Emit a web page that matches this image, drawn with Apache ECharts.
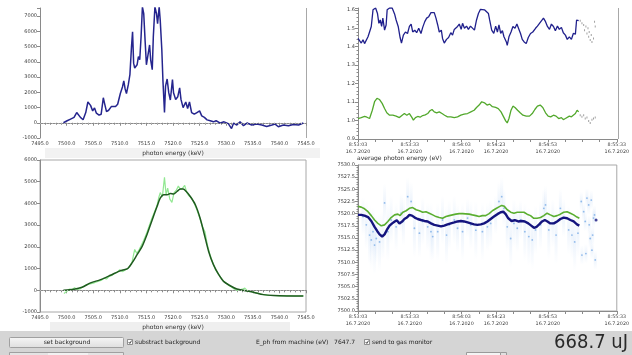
<!DOCTYPE html>
<html>
<head>
<meta charset="utf-8">
<script src="https://cdn.jsdelivr.net/npm/echarts@6/dist/echarts.min.js"></script>
<style>
html,body{margin:0;padding:0;background:#fff;}
#c{width:632px;height:355px;}
</style>
</head>
<body>
<div id="c"></div>
<script>
// ---- single-shot spectrum [photon energy keV, counts] ----
var spectrum = [[7499.4,0],[7500.1,130],[7500.75,240],[7501.4,350],[7501.9,670],[7502.1,750],[7502.6,350],[7503.1,200],[7503.6,670],[7504.0,1360],[7504.5,1140],[7504.9,780],[7505.25,970],[7505.6,630],[7506.1,500],[7506.5,560],[7506.9,1640],[7507.1,1320],[7507.5,730],[7507.9,820],[7508.4,1060],[7508.75,930],[7509.2,1060],[7509.6,1210],[7509.9,1140],[7510.1,1920],[7510.5,2350],[7510.75,2740],[7511.0,2220],[7511.25,1920],[7511.6,2500],[7511.9,3150],[7512.2,4990],[7512.4,5960],[7512.6,3910],[7512.8,3590],[7513.25,3800],[7513.5,4340],[7513.75,4130],[7514.0,5640],[7514.25,7600],[7514.5,7150],[7514.75,5420],[7515.0,3800],[7515.25,3910],[7515.6,5100],[7515.8,4130],[7516.1,3480],[7516.3,5640],[7516.6,7600],[7516.9,7150],[7517.1,6500],[7517.4,7600],[7517.6,6720],[7517.9,4770],[7518.1,2830],[7518.4,670],[7518.6,2400],[7518.9,2870],[7519.2,1970],[7519.5,1490],[7519.9,2830],[7520.1,1970],[7520.5,1530],[7520.9,1710],[7521.25,2290],[7521.5,1530],[7521.9,990],[7522.4,1360],[7522.75,930],[7523.1,1360],[7523.5,670],[7524.0,560],[7524.5,670],[7525.0,780],[7525.4,450],[7525.9,350],[7526.4,190],[7527.0,130],[7527.6,60],[7528.1,130],[7528.9,-20],[7529.6,60],[7530.4,-60],[7531.0,-380],[7531.4,-20],[7532.0,-150],[7532.6,60],[7533.25,-190],[7533.9,-20],[7534.8,-150],[7535.75,-90],[7536.7,-150],[7537.6,-240],[7538.6,-150],[7539.2,-90],[7539.8,-260],[7540.75,-150],[7541.7,-200],[7542.6,-110],[7543.6,-150],[7544.5,-20]];

// ---- averaged spectrum: raw average and smoothed fit ----
var avgRaw = [[7499.5,-150],[7500.0,-60],[7500.5,50],[7501.0,30],[7501.5,120],[7502.0,40],[7502.5,60],[7503.0,150],[7503.5,230],[7504.2,280],[7505.0,330],[7505.6,380],[7506.0,420],[7506.6,470],[7507.0,560],[7507.5,520],[7508.0,640],[7508.6,700],[7509.0,780],[7509.5,820],[7510.0,950],[7510.5,860],[7511.0,930],[7511.5,1000],[7512.0,1150],[7512.3,1300],[7512.8,1880],[7513.2,1700],[7513.6,1850],[7514.0,2050],[7514.5,2300],[7515.0,2600],[7515.5,2950],[7516.0,3300],[7516.5,3600],[7517.0,3900],[7517.3,4250],[7517.6,4500],[7518.0,4300],[7518.4,5200],[7518.7,4400],[7519.0,4700],[7519.4,4200],[7519.8,4050],[7520.2,4500],[7520.6,4600],[7521.0,4800],[7521.4,4650],[7521.8,4700],[7522.2,4830],[7522.6,4500],[7523.0,4350],[7523.5,4250],[7524.0,4000],[7524.5,3700],[7525.0,3350],[7525.5,2950],[7526.0,2700],[7526.5,2050],[7527.0,1600],[7527.5,1250],[7528.0,950],[7528.5,750],[7529.0,580],[7529.5,420],[7530.0,330],[7530.5,220],[7531.0,150],[7531.5,60],[7532.0,0],[7532.5,20],[7533.0,50],[7533.5,100],[7534.0,-30],[7534.5,-50],[7535.0,-80],[7535.5,-110],[7536.0,-140],[7536.5,-170],[7537.0,-200],[7538.0,-230],[7539.0,-240],[7540.0,-260],[7541.0,-250],[7542.0,-250],[7543.0,-265],[7544.5,-260]];
var avgFit = [[7499.4,0],[7501.4,50],[7502.9,140],[7504.5,340],[7506.4,490],[7508.25,690],[7509.8,870],[7511.0,960],[7511.5,1000],[7512.3,1260],[7513.25,1640],[7514.2,2020],[7515.1,2560],[7516.1,3250],[7517.0,3860],[7517.6,4240],[7518.25,4400],[7518.9,4400],[7519.5,4460],[7520.1,4430],[7520.75,4550],[7521.4,4660],[7521.9,4660],[7522.5,4550],[7523.25,4320],[7524.2,3940],[7525.1,3320],[7525.9,2560],[7526.7,1790],[7527.6,1180],[7528.6,720],[7529.5,410],[7530.75,210],[7532.0,60],[7533.6,-20],[7535.1,-90],[7537.0,-200],[7538.9,-245],[7541.4,-260],[7544.5,-260]];

// ---- ratio traces vs time [seconds after 8:53:03, value] ----
var ratioBlue = [[0,1.445],[1,1.436],[1.9,1.42],[2.9,1.438],[3.8,1.417],[4.8,1.41],[5.8,1.454],[6.7,1.48],[7.7,1.51],[8.7,1.6],[10.2,1.61],[11.3,1.58],[12.1,1.527],[12.9,1.545],[13.7,1.51],[14.4,1.555],[15.4,1.49],[16.3,1.518],[16.9,1.6],[18.3,1.61],[19.8,1.61],[21.2,1.578],[22.1,1.545],[23.3,1.51],[24.4,1.45],[25.2,1.42],[26.3,1.463],[27.5,1.48],[28.7,1.472],[29.8,1.51],[30.8,1.523],[31.7,1.48],[32.9,1.49],[34,1.476],[35.2,1.5],[36.5,1.472],[37.5,1.505],[38.7,1.536],[39.8,1.555],[41,1.563],[42.3,1.585],[43.3,1.578],[44.2,1.585],[45.2,1.555],[46.2,1.518],[47.1,1.48],[48.3,1.49],[49,1.445],[50,1.42],[51.3,1.44],[52.5,1.45],[53.8,1.476],[54.8,1.463],[55.8,1.494],[56.7,1.487],[57.7,1.51],[58.7,1.523],[59.8,1.494],[60.6,1.527],[61.7,1.5],[62.9,1.512],[64,1.494],[65.2,1.512],[66.3,1.505],[67.5,1.49],[68.7,1.545],[69.8,1.58],[71,1.603],[72.1,1.61],[73.3,1.6],[74.4,1.61],[75.6,1.58],[76.3,1.545],[77.5,1.49],[78.7,1.472],[79.8,1.512],[80.8,1.48],[81.7,1.518],[82.7,1.472],[83.7,1.487],[84.6,1.454],[86,1.426],[86.5,1.408],[87.5,1.454],[88.7,1.48],[89.8,1.51],[91,1.5],[92.1,1.523],[93.3,1.494],[94.2,1.472],[95.2,1.44],[96.3,1.426],[97.5,1.417],[98.7,1.45],[100,1.472],[101.3,1.48],[102.9,1.5],[104,1.512],[105.2,1.527],[106.3,1.518],[107.5,1.555],[108.7,1.536],[109.8,1.51],[111,1.494],[112.1,1.523],[113.3,1.51],[114.4,1.487],[115.6,1.512],[116.7,1.494],[117.9,1.505],[119,1.476],[120.2,1.463],[121.3,1.44],[122.5,1.454],[123.7,1.44],[124.8,1.472],[126,1.468],[126.7,1.545],[127.9,1.541]];
var ratioGreen = [[0,1.011],[1.9,1.016],[3.8,1.022],[5.2,1.018],[6.7,1.011],[8.3,1.056],[9.6,1.102],[11,1.12],[12.5,1.114],[14,1.093],[15.4,1.065],[16.7,1.042],[18.3,1.029],[20.2,1.029],[22.1,1.024],[24,1.016],[25.6,1.029],[26.9,1.038],[28.3,1.029],[29.8,1.038],[31.3,1.016],[32.1,1.002],[33.3,1.016],[34.6,1.022],[36,1.018],[37.5,1.027],[39,1.031],[40.4,1.038],[41.7,1.053],[42.9,1.06],[44.2,1.047],[45.6,1.042],[47.1,1.047],[48.7,1.038],[50.2,1.029],[51.9,1.02],[53.8,1.02],[55.8,1.016],[57.7,1.02],[59.6,1.029],[61.5,1.035],[63.5,1.038],[65.4,1.047],[67.3,1.056],[68.7,1.071],[70.2,1.084],[71.7,1.102],[73.3,1.096],[74.8,1.084],[76.3,1.089],[77.9,1.075],[79.8,1.071],[81.3,1.065],[82.9,1.047],[84.4,1.02],[85.6,0.998],[86.5,0.987],[87.5,1.011],[88.7,1.056],[89.8,1.078],[91,1.071],[92.5,1.056],[94,1.042],[95.6,1.029],[97.5,1.024],[99.4,1.024],[101,1.038],[102.5,1.06],[104,1.078],[105.6,1.084],[107.1,1.071],[108.7,1.042],[110.2,1.024],[111.7,1.02],[113.3,1.029],[114.8,1.024],[116.3,1.011],[117.9,1.016],[119,1.005],[120.2,1.011],[121.3,1.005],[122.5,1.024],[123.7,1.02],[124.8,1.029],[126,1.038],[127,1.056],[127.9,1.047]];
var ratioTail = [[128.8,1.541],[129.8,1.527],[130.8,1.518],[131.3,1.49],[132.1,1.51],[132.7,1.472],[133.3,1.5],[133.7,1.454],[134,1.48],[134.6,1.436],[135.2,1.463],[135.6,1.426],[136.5,1.445],[137.1,1.536],[137.5,1.51],
                 [128.8,1.029],[129.8,1.02],[130.8,1.029],[131.7,1.011],[132.7,1.016],[133.7,0.998],[134.6,0.987],[135.6,1.005],[136.5,1.011],[137.5,1.016]];

// ---- average photon energy vs time [seconds after 8:53:03, eV] ----
var energyGreen = [[0,7521.5],[1.9,7521.35],[3.8,7521.0],[5.8,7520.4],[7.7,7519.6],[9.6,7518.7],[11.5,7518.0],[13.5,7517.5],[15.4,7517.7],[17.3,7518.4],[19.2,7519.2],[21.2,7519.75],[23.1,7519.9],[24.4,7519.6],[26,7520.3],[27.9,7520.6],[29.8,7521.1],[31.7,7521.25],[33.7,7520.8],[35.6,7520.6],[37.5,7520.3],[39.4,7520.4],[41.3,7520.1],[43.3,7519.75],[45.2,7519.4],[47.1,7519.2],[49,7519.05],[51,7519.4],[52.9,7519.6],[54.8,7519.75],[56.7,7519.9],[58.7,7520.0],[60.6,7520.0],[62.5,7519.95],[64.4,7519.9],[66.3,7519.75],[68.3,7519.6],[70.2,7519.4],[72.1,7519.6],[74,7519.6],[76,7520.0],[77.9,7520.6],[79.8,7521.0],[81.7,7521.4],[83.3,7521.7],[84.8,7521.5],[86.5,7520.8],[88.5,7520.3],[90.4,7520.1],[92.3,7520.3],[94.2,7520.3],[96.2,7520.3],[98,7519.9],[100,7519.6],[101.9,7519.05],[103.8,7519.05],[105.8,7519.2],[107.7,7519.6],[109.6,7520.1],[111.5,7519.75],[113.5,7519.4],[115.4,7519.6],[117.3,7519.9],[119.2,7520.3],[121.2,7520.4],[123.1,7520.1],[125,7519.75],[126.9,7519.3],[128.3,7519.05]];
var energyBlue = [[0,7519.75],[1.9,7519.75],[3.8,7519.6],[5.8,7519.3],[7.7,7518.5],[9.6,7517.3],[11.2,7516.4],[12.5,7515.75],[14,7515.3],[15.4,7515.75],[16.7,7516.65],[18.3,7517.55],[19.8,7518.0],[21.3,7518.4],[22.5,7518.65],[24,7518.0],[25.6,7518.4],[26.9,7518.9],[28.3,7519.2],[29.8,7519.75],[31.3,7519.6],[32.9,7519.2],[34.6,7518.9],[36.5,7518.7],[38.5,7518.5],[40.4,7518.4],[42.3,7518.0],[44.2,7517.7],[46.2,7517.55],[48.1,7517.4],[50,7517.55],[51.9,7517.8],[53.8,7518.0],[55.8,7518.2],[57.7,7518.4],[59.6,7518.5],[61.5,7518.4],[63.5,7518.2],[65.4,7518.0],[67.3,7517.8],[69.2,7517.7],[71.2,7517.8],[73.1,7518.0],[75,7518.4],[76.9,7518.9],[78.8,7519.4],[80.8,7519.9],[82.7,7520.3],[84.2,7520.4],[85.6,7519.9],[87.1,7519.05],[89,7518.5],[90.9,7518.65],[92.9,7518.4],[94.8,7518.5],[96.7,7518.4],[98.7,7518.0],[100.4,7517.55],[102,7517.1],[103.5,7517.3],[105,7517.8],[106.7,7518.4],[108.3,7518.7],[109.8,7518.4],[111.5,7518.0],[113.5,7518.0],[115.4,7518.4],[117.3,7518.9],[119.2,7519.2],[121.2,7519.05],[123.1,7518.7],[125,7518.4],[126.9,7517.8],[128.3,7517.55]];
var energyLast = [[138,7518.7]];
// single-shot energies and their spread (eV)
var shotTime = [2.9,4.8,6.7,7.7,8.7,9.6,10.6,12.5,14.4,15.4,17.3,19.2,22.1,25,26.3,28.8,30.8,32.7,35.6,37.5,40.4,42.3,43.3,46.2,49,51.3,52.9,55.8,57.7,60.6,63.5,65.4,68.3,72.1,75,76.9,79.8,81.7,83.3,84.6,86.5,88.5,90.4,92.3,94.2,96.7,99,101,102.9,105.8,107.7,108.7,110.6,112.9,114.8,117.3,119.2,122.1,124,125.6,127.5,129.4,130.8,131.7,132.7,133.7,134,135.2,136,136.5,132.1,129.8,137.5,135.6,134.6,137.1];
var shotEnergy = [7519.4,7517.7,7515.6,7514.6,7516.3,7513.55,7514.9,7514.2,7515.6,7522.2,7516.3,7518.7,7517.3,7520.1,7518.4,7523.5,7522.5,7517.0,7516.0,7518.4,7517.3,7516.3,7515.3,7516.3,7518.7,7515.6,7517.7,7518.7,7517.0,7516.3,7519.1,7517.7,7516.6,7516.3,7517.3,7518.0,7519.75,7522.5,7523.5,7521.1,7517.3,7514.9,7518.0,7517.0,7518.7,7516.3,7515.3,7514.6,7516.65,7517.7,7521.1,7521.8,7516.65,7518.0,7515.6,7521.1,7519.1,7516.65,7515.6,7514.2,7516.0,7522.5,7520.4,7518.4,7523.2,7521.8,7517.7,7522.8,7515.6,7519.1,7511.8,7511.5,7510.5,7512.5,7514.9,7519.75];
var shotSpread = [4,5,6,6,5,6,5,6,5,4,6,5,5,4,5,4,4,6,5,5,5,6,5,6,5,6,5,5,5,6,4,5,6,6,5,5,4,4,4,4,5,6,5,5,4,6,6,6,5,5,4,4,6,5,6,4,4,5,5,6,5,2,2,2,2,2,2,2,2,2,2,2,2,2,2,2];

// ---- axis tick labels ----
var timeTickSec = [0, 30, 60, 80, 110, 150];
var timeTickText = ['8:53:03\n16.7.2020', '8:53:33\n16.7.2020', '8:54:03\n16.7.2020', '8:54:23\n16.7.2020', '8:54:53\n16.7.2020', '8:55:33\n16.7.2020'];

var FONT = 'DejaVu Sans';
var AXIS_COLOR = '#8a8a8a';
var LABEL_COLOR = '#3a3a3a';

function baseAxis(extra) {
  var a = {
    axisLine: { show: true, lineStyle: { color: AXIS_COLOR, width: 1 } },
    axisTick: { show: true, inside: false, length: 3, lineStyle: { color: AXIS_COLOR } },
    axisLabel: { color: LABEL_COLOR, fontSize: 5, fontFamily: FONT, margin: 3 },
    splitLine: { show: false }
  };
  for (var k in extra) a[k] = extra[k];
  return a;
}

function plainLabel(fmt) {
  return { color: LABEL_COLOR, fontSize: 5, fontFamily: FONT, margin: 3, formatter: fmt };
}

function energyAxis(gridIndex) {
  return baseAxis({
    type: 'value', gridIndex: gridIndex, min: 7495, max: 7545, interval: 5,
    minorTick: { show: true, splitNumber: 5, length: 2, lineStyle: { color: AXIS_COLOR } },
    axisLabel: plainLabel(function (v) { return v.toFixed(1); }),
    name: 'photon energy (keV)', nameLocation: 'middle', nameGap: 12,
    nameTextStyle: { color: '#333', fontSize: 6, fontFamily: FONT }
  });
}

function timeAxis(gridIndex) {
  return baseAxis({
    type: 'value', gridIndex: gridIndex, min: 0, max: 150, interval: 10,
    axisLabel: { color: LABEL_COLOR, fontSize: 4.8, fontFamily: FONT, margin: 3, lineHeight: 6.5,
      formatter: function (v) {
        var i = timeTickSec.indexOf(Math.round(v));
        return i < 0 ? '' : timeTickText[i];
      } }
  });
}

var zeroLine = {
  silent: true, symbol: 'none', label: { show: false },
  lineStyle: { color: '#b0b0b0', type: [1, 2], width: 1 },
  data: [{ yAxis: 0 }]
};

var errorBars = shotTime.map(function (t, i) {
  return [t, shotEnergy[i] - shotSpread[i], shotEnergy[i] + shotSpread[i]];
});
var shots = shotTime.map(function (t, i) { return [t, shotEnergy[i]]; });

var chart = echarts.init(document.getElementById('c'), null, { renderer: 'canvas' });

chart.setOption({
  animation: false,
  backgroundColor: '#ffffff',
  grid: [
    { left: 40, top: 8, width: 266, height: 130 },
    { left: 40, top: 160, width: 266, height: 152, show: true, borderColor: '#a8a8a8', borderWidth: 1 },
    { left: 358, top: 8, width: 260, height: 131 },
    { left: 358, top: 165, width: 260, height: 146, show: true, borderColor: '#a8a8a8', borderWidth: 1 }
  ],
  xAxis: [energyAxis(0), energyAxis(1), timeAxis(2), timeAxis(3)],
  yAxis: [
    baseAxis({ type: 'value', gridIndex: 0, min: -1000, max: 7525, interval: 1000,
      axisLabel: plainLabel(function (v) { return v % 1000 === 0 ? String(v) : ''; }) }),
    baseAxis({ type: 'value', gridIndex: 1, min: -1000, max: 6000, interval: 1000,
      axisLabel: plainLabel(function (v) { return String(v); }) }),
    baseAxis({ type: 'value', gridIndex: 2, min: 0.9, max: 1.61, interval: 0.1,
      minorTick: { show: true, splitNumber: 5, length: 1.5, lineStyle: { color: AXIS_COLOR } },
      axisLabel: plainLabel(function (v) { return Math.abs(v * 10 - Math.round(v * 10)) > 1e-6 ? '' : v.toFixed(1); }) }),
    baseAxis({ type: 'value', gridIndex: 3, min: 7500, max: 7530, interval: 2.5,
      minorTick: { show: true, splitNumber: 5, length: 1.5, lineStyle: { color: AXIS_COLOR } },
      axisLabel: plainLabel(function (v) { return v.toFixed(1); }) })
  ],
  series: [
    { type: 'line', xAxisIndex: 0, yAxisIndex: 0, data: spectrum, showSymbol: false, clip: true,
      lineStyle: { color: '#25258e', width: 1.5 }, markLine: zeroLine, z: 3 },
    { type: 'line', xAxisIndex: 1, yAxisIndex: 1, data: avgRaw, showSymbol: false, clip: true,
      lineStyle: { color: '#92e892', width: 1.2 }, markLine: zeroLine, z: 3 },
    { type: 'line', xAxisIndex: 1, yAxisIndex: 1, data: avgFit, showSymbol: false, smooth: 0.3, clip: true,
      lineStyle: { color: '#1f5a1f', width: 1.5 }, z: 4 },
    { type: 'line', xAxisIndex: 2, yAxisIndex: 2, data: ratioBlue, showSymbol: false, clip: true,
      lineStyle: { color: '#20208c', width: 1.3 }, z: 3 },
    { type: 'line', xAxisIndex: 2, yAxisIndex: 2, data: ratioGreen, showSymbol: false, clip: true,
      lineStyle: { color: '#52a82c', width: 1.3 }, z: 3 },
    { type: 'scatter', xAxisIndex: 2, yAxisIndex: 2, data: ratioTail, symbol: 'rect', symbolSize: [1, 2],
      itemStyle: { color: '#8a8a8a' }, z: 3 },
    { type: 'custom', xAxisIndex: 3, yAxisIndex: 3, data: errorBars, clip: true, z: 2,
      encode: { x: 0, y: [1, 2] },
      renderItem: function (params, api) {
        var t = api.value(0);
        var top = api.coord([t, api.value(2)]);
        var bot = api.coord([t, api.value(1)]);
        return {
          type: 'rect',
          shape: { x: top[0] - 1.5, y: top[1], width: 3, height: bot[1] - top[1] },
          style: { fill: new echarts.graphic.LinearGradient(0, 0, 0, 1, [
            { offset: 0, color: 'rgba(175,205,242,0)' },
            { offset: 0.5, color: 'rgba(175,205,242,0.22)' },
            { offset: 1, color: 'rgba(175,205,242,0)' }
          ]) }
        };
      } },
    { type: 'scatter', xAxisIndex: 3, yAxisIndex: 3, data: shots, symbolSize: 1.8,
      itemStyle: { color: '#7aace6', opacity: 0.8 }, z: 3 },
    { type: 'line', xAxisIndex: 3, yAxisIndex: 3, data: energyGreen, showSymbol: false, clip: true,
      lineStyle: { color: '#5aae30', width: 1.6 }, z: 4 },
    { type: 'line', xAxisIndex: 3, yAxisIndex: 3, data: energyBlue, showSymbol: false, clip: true,
      lineStyle: { color: '#14147e', width: 2.4 }, z: 5 },
    { type: 'scatter', xAxisIndex: 3, yAxisIndex: 3, data: energyLast, symbolSize: 3,
      itemStyle: { color: '#14147e' }, z: 5 }
  ],
  graphic: [
    // light strips behind the axis names
    { type: 'rect', z: -10, shape: { x: 45, y: 148, width: 275, height: 10 }, style: { fill: '#f2f2f2' } },
    { type: 'rect', z: -10, shape: { x: 50, y: 322, width: 240, height: 9 }, style: { fill: '#efefef' } },
    // right frame lines of the upper plots
    { type: 'line', shape: { x1: 306.5, y1: 8, x2: 306.5, y2: 138 }, style: { stroke: '#a8a8a8', lineWidth: 1 } },
    { type: 'line', shape: { x1: 618.5, y1: 8, x2: 618.5, y2: 139 }, style: { stroke: '#a8a8a8', lineWidth: 1 } },
    // plot title of the energy trend
    { type: 'text', left: 357, top: 155,
      style: { text: 'average photon energy (eV)', fill: '#333', font: '6px "DejaVu Sans"' } },
    // control panel
    { type: 'rect', z: -10, shape: { x: 0, y: 331, width: 632, height: 24 }, style: { fill: '#d5d5d5' } },
    { type: 'rect', shape: { x: 9.5, y: 337.5, width: 114, height: 10, r: 1 },
      style: { fill: new echarts.graphic.LinearGradient(0, 0, 0, 1, [{ offset: 0, color: '#f6f6f6' }, { offset: 1, color: '#dedede' }]),
        stroke: '#a0a0a0', lineWidth: 1 } },
    { type: 'text', x: 67, y: 342.5,
      style: { text: 'set background', fill: '#222', font: '6px "DejaVu Sans"', textAlign: 'center', textVerticalAlign: 'middle' } },
    { type: 'rect', shape: { x: 127.5, y: 339.5, width: 5, height: 5 }, style: { fill: '#fafafa', stroke: '#777', lineWidth: 0.8 } },
    { type: 'polyline', shape: { points: [[128.7, 342], [129.8, 343.4], [131.6, 340.6]] }, style: { stroke: '#333', lineWidth: 0.9, fill: null } },
    { type: 'text', x: 135, y: 342.5,
      style: { text: 'substract background', fill: '#222', font: '6px "DejaVu Sans"', textVerticalAlign: 'middle' } },
    { type: 'text', x: 256, y: 342.5,
      style: { text: 'E_ph from machine (eV)   7647.7', fill: '#222', font: '6px "DejaVu Sans"', textVerticalAlign: 'middle' } },
    { type: 'rect', shape: { x: 364.5, y: 339.5, width: 5, height: 5 }, style: { fill: '#fafafa', stroke: '#777', lineWidth: 0.8 } },
    { type: 'polyline', shape: { points: [[365.7, 342], [366.8, 343.4], [368.6, 340.6]] }, style: { stroke: '#333', lineWidth: 0.9, fill: null } },
    { type: 'text', x: 372, y: 342.5,
      style: { text: 'send to gas monitor', fill: '#222', font: '6px "DejaVu Sans"', textVerticalAlign: 'middle' } },
    { type: 'text', x: 628, y: 343,
      style: { text: '668.7 uJ', fill: '#2a2a2a', font: '20px "Liberation Sans Narrow", "DejaVu Sans Condensed", "Liberation Sans"', textAlign: 'right', textVerticalAlign: 'middle' } },
    // second row of controls, partly visible
    { type: 'rect', shape: { x: 9.5, y: 352.5, width: 114, height: 6 }, style: { fill: '#e4e4e4', stroke: '#a0a0a0', lineWidth: 1 } },
    { type: 'rect', shape: { x: 48, y: 353, width: 40, height: 5 }, style: { fill: '#f2f2f2' } },
    { type: 'rect', shape: { x: 466.5, y: 352.5, width: 34, height: 6 }, style: { fill: '#f4f4f4', stroke: '#9a9a9a', lineWidth: 1 } },
    { type: 'rect', shape: { x: 500.5, y: 352.5, width: 6, height: 6 }, style: { fill: '#e0e0e0', stroke: '#9a9a9a', lineWidth: 1 } }
  ]
});
</script>
</body>
</html>
